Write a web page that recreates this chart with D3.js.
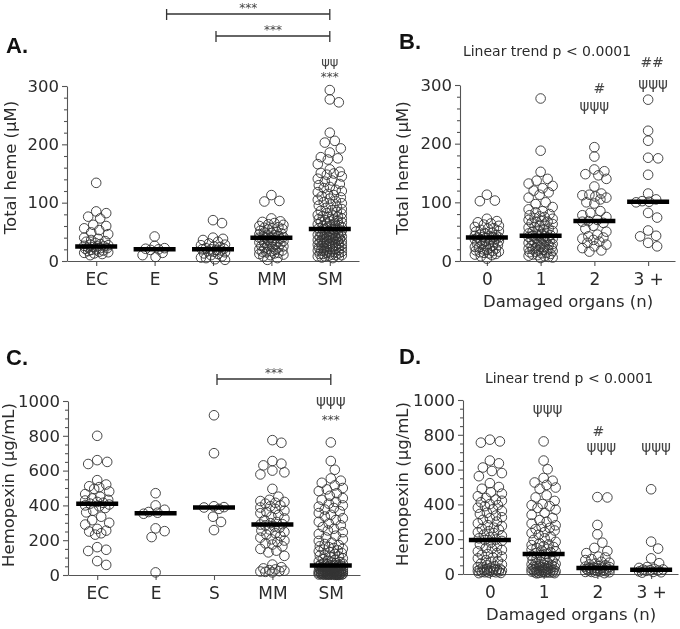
<!DOCTYPE html>
<html><head><meta charset="utf-8">
<script src="https://cdn.jsdelivr.net/npm/d3@7"></script>
<style>body{margin:0;background:#fff} svg{display:block;will-change:transform}</style>
</head><body><svg id="c" width="680" height="629"></svg>
<script>
// ---------- DATA ----------
const groupCats = ["EC", "E", "S", "MM", "SM"];
const organCats = ["0", "1", "2", "3 +"];
const hemeTicks = [0, 100, 200, 300];
const hpxTicks = [0, 200, 400, 600, 800, 1000];

// Total heme (µM) by clinical group (panel A)
const hemeEC = [134, 85, 82, 76, 73, 62, 60, 56, 53, 49, 46, 40, 38, 36, 34, 33, 31, 29, 28, 27, 26, 25, 25, 24, 23, 22, 22, 21, 20, 19, 18, 17, 16, 15, 14, 13, 12, 10];
const hemeE = [42, 26, 22, 21, 20, 19, 14, 10, 7];
const hemeS = [70, 65, 40, 38, 36, 33, 30, 28, 27, 25, 24, 22, 21, 20, 20, 19, 18, 17, 16, 15, 13, 12, 10, 8, 6, 5, 3, 2];
const hemeMM = [113, 103, 102, 73, 68, 67, 65, 63, 62, 60, 58, 57, 56, 55, 54, 52, 50, 49, 48, 47, 46, 45, 44, 43, 42, 41, 40, 40, 40, 39, 38, 37, 36, 35, 34, 33, 32, 31, 30, 29, 28, 27, 26, 25, 24, 23, 22, 21, 20, 19, 18, 17, 16, 15, 14, 13, 12, 11, 10, 8, 5, 2];
const hemeSM = [293, 277, 272, 220, 206, 203, 193, 186, 178, 176, 174, 166, 157, 153, 151, 150, 148, 145, 141, 138, 136, 132, 130, 127, 125, 122, 120, 118, 115, 113, 111, 109, 107, 105, 103, 101, 99, 97, 95, 93, 91, 89, 87, 86, 84, 82, 81, 79, 78, 77, 76, 75, 73, 72, 71, 70, 69, 68, 67, 66, 65, 64, 63, 62, 61, 60, 59, 58, 57, 56, 55, 55, 54, 53, 52, 51, 50, 49, 48, 47, 46, 45, 44, 43, 42, 41, 40, 39, 38, 37, 36, 35, 34, 33, 32, 31, 30, 29, 28, 27, 26, 25, 24, 23, 22, 21, 20, 19, 18, 17, 16, 15, 14, 13, 12, 11, 10, 9, 8, 7, 6, 5, 48, 45, 42, 38, 35, 32, 28, 25, 22, 20, 18, 15, 12, 10, 8, 44, 41, 36, 30, 26];
const hemeGroupMedians = [25, 20, 20, 40, 55];

// Total heme (µM) by damaged organs (panel B)
const hemeO0 = [113, 103, 102, 72, 68, 66, 64, 62, 60, 58, 56, 55, 53, 51, 50, 48, 47, 45, 44, 43, 42, 41, 40, 40, 40, 39, 38, 37, 36, 35, 34, 33, 32, 30, 29, 28, 27, 26, 25, 24, 23, 22, 21, 20, 19, 18, 17, 16, 15, 14, 13, 12, 11, 10, 8, 4];
const hemeO1 = [277, 188, 152, 140, 137, 132, 128, 124, 120, 117, 113, 108, 100, 97, 92, 88, 85, 83, 80, 78, 76, 75, 73, 72, 70, 68, 67, 66, 65, 63, 62, 60, 58, 57, 55, 54, 52, 51, 50, 48, 47, 46, 45, 44, 43, 43, 42, 41, 40, 39, 38, 37, 36, 35, 34, 33, 32, 31, 30, 29, 28, 27, 26, 25, 24, 23, 22, 21, 20, 20, 19, 18, 17, 16, 15, 14, 13, 12, 11, 10, 9, 8, 7, 6, 5];
const hemeO2 = [194, 178, 156, 153, 148, 146, 140, 127, 115, 113, 112, 110, 108, 105, 100, 98, 85, 82, 78, 75, 70, 68, 67, 65, 60, 55, 50, 45, 42, 40, 38, 36, 33, 31, 28, 25, 22, 18, 16];
const hemeO3 = [275, 222, 205, 176, 175, 147, 115, 105, 102, 101, 100, 82, 74, 52, 43, 42, 31, 25];
const hemeOrganMedians = [40, 43, 68, 101];

// Hemopexin (µg/mL) by clinical group (panel C)
const hpxEC = [800, 660, 650, 638, 545, 520, 510, 505, 495, 480, 465, 450, 440, 432, 428, 420, 415, 410, 405, 400, 395, 385, 370, 360, 335, 315, 300, 290, 265, 255, 250, 240, 232, 160, 145, 138, 80, 58];
const hpxE = [470, 400, 375, 362, 358, 352, 268, 252, 218, 15];
const hpxS = [918, 700, 395, 390, 388, 380, 335, 305, 258];
const hpxMM = [775, 760, 655, 640, 630, 600, 590, 578, 495, 450, 432, 425, 420, 415, 410, 400, 395, 388, 380, 370, 362, 355, 345, 335, 325, 315, 305, 298, 292, 290, 285, 278, 270, 262, 255, 248, 240, 232, 225, 215, 205, 198, 190, 182, 175, 165, 150, 140, 130, 110, 60, 45, 38, 32, 28, 25, 22, 20, 18, 15];
const hpxSM = [762, 655, 605, 555, 542, 530, 515, 500, 492, 482, 470, 455, 442, 432, 420, 410, 400, 393, 385, 376, 366, 356, 346, 336, 326, 316, 306, 296, 286, 276, 266, 256, 246, 236, 226, 216, 206, 196, 186, 178, 172, 165, 160, 155, 150, 146, 141, 136, 131, 126, 121, 116, 111, 106, 101, 96, 91, 86, 82, 78, 75, 72, 70, 68, 65, 62, 60, 58, 56, 55, 54, 52, 50, 48, 47, 45, 44, 42, 40, 39, 38, 36, 35, 34, 32, 31, 30, 29, 28, 27, 26, 25, 24, 23, 22, 21, 20, 20, 19, 18, 17, 16, 15, 15, 14, 13, 12, 12, 11, 10, 10, 9, 9, 8, 8, 7, 7, 6, 6, 5, 5, 5, 4, 4, 4, 3, 3, 3, 2, 2, 2, 2, 1, 1, 1];
const hpxGroupMedians = [410, 355, 388, 290, 55];

// Hemopexin (µg/mL) by damaged organs (panel D)
const hpxO0 = [772, 762, 755, 652, 636, 612, 592, 580, 562, 522, 500, 490, 470, 462, 447, 437, 428, 421, 412, 402, 396, 390, 381, 372, 362, 352, 345, 336, 326, 320, 311, 301, 291, 281, 276, 266, 260, 255, 246, 240, 235, 226, 220, 211, 205, 198, 195, 190, 180, 171, 160, 150, 145, 139, 130, 120, 115, 110, 100, 95, 90, 80, 75, 70, 60, 55, 50, 45, 40, 38, 35, 30, 28, 25, 22, 20, 18, 15, 14, 12, 10, 8, 6, 5, 30, 25, 20, 15, 10];
const hpxO1 = [762, 652, 602, 552, 536, 526, 512, 497, 490, 452, 440, 420, 402, 396, 390, 380, 370, 352, 340, 322, 310, 300, 290, 280, 271, 265, 258, 250, 241, 235, 225, 215, 205, 196, 185, 176, 170, 166, 160, 155, 150, 145, 140, 135, 130, 125, 120, 115, 110, 105, 100, 95, 90, 85, 80, 75, 70, 65, 60, 58, 55, 52, 50, 48, 45, 42, 40, 38, 35, 32, 30, 28, 25, 22, 20, 18, 16, 14, 12, 10, 9, 8, 6, 5, 4, 20, 15, 10, 30, 25, 12, 8, 45, 35];
const hpxO2 = [442, 440, 282, 228, 180, 150, 132, 120, 100, 95, 86, 80, 70, 65, 60, 55, 50, 45, 42, 40, 38, 36, 35, 34, 32, 30, 28, 25, 22, 20, 18, 16, 14, 12, 10, 8, 5, 30, 20, 12];
const hpxO3 = [487, 186, 146, 90, 62, 40, 35, 30, 26, 25, 22, 20, 18, 15, 12, 10, 8];
const hpxOrganMedians = [195, 115, 35, 25];

// ---------- DRAW ----------
const svg = d3.select("#c");
const FONT = "'DejaVu Sans', sans-serif";
const INK = "#2b2b2b";
const AX = "#555";

function swarm(vals, y, cx, r, maxHalf) {
  const pts = vals.map(v => ({ v, y: y(v) })).sort((a, b) => a.y - b.y);
  const placed = [];
  const minD = 2 * r * 0.97;
  for (const p of pts) {
    let best = 0, bestScore = -Infinity;
    for (let k = 0; k <= 2 * maxHalf; k++) {
      const dx = (k % 2 === 1) ? (k + 1) / 2 : -k / 2;
      let md = Infinity;
      for (const q of placed) {
        if (Math.abs(q.y - p.y) >= minD) continue;
        const d = Math.hypot(q.x - (cx + dx), q.y - p.y);
        if (d < md) md = d;
      }
      if (md >= minD) { best = dx; break; }
      if (md > bestScore) { bestScore = md; best = dx; }
    }
    p.x = cx + best;
    placed.push(p);
  }
  return placed;
}

function panel(cfg) {
  const g = svg.append("g");
  const x = d3.scalePoint().domain(cfg.cats).range([cfg.x0, cfg.x1]).padding(0.5);
  const y = d3.scaleLinear().domain([0, cfg.max]).range([cfg.yb, cfg.yt]);

  const minor = d3.range(0, cfg.max + 0.001, cfg.minorStep).filter(v => !cfg.ticks.includes(v));
  g.append("g").attr("transform", `translate(${cfg.x0},0)`)
    .call(d3.axisLeft(y).tickValues(minor).tickSize(3).tickSizeOuter(0).tickFormat(""))
    .call(a => a.select(".domain").remove());
  const ya = g.append("g").attr("transform", `translate(${cfg.x0},0)`)
    .call(d3.axisLeft(y).tickValues(cfg.ticks).tickSize(5).tickSizeOuter(0).tickPadding(3).tickFormat(d3.format("d")));
  ya.selectAll("text").attr("font-family", FONT).attr("font-size", 16.5).attr("fill", INK);
  const xa = g.append("g").attr("transform", `translate(0,${cfg.yb})`)
    .call(d3.axisBottom(x).tickSize(5).tickSizeOuter(0).tickPadding(7));
  xa.selectAll("text").attr("font-family", FONT).attr("font-size", 17).attr("fill", INK);
  g.selectAll(".domain, .tick line").attr("stroke", AX).attr("stroke-width", 1.1);

  cfg.data.forEach((vals, i) => {
    const pts = swarm(vals, y, x(cfg.cats[i]), 4.8, cfg.spread);
    g.append("g").selectAll("circle").data(pts).join("circle")
      .attr("cx", d => d.x).attr("cy", d => d.y).attr("r", 4.8)
      .attr("fill", "none").attr("stroke", "#333").attr("stroke-width", 0.9);
  });
  g.append("g").selectAll("line").data(cfg.medians).join("line")
    .attr("x1", (d, i) => x(cfg.cats[i]) - 21).attr("x2", (d, i) => x(cfg.cats[i]) + 21)
    .attr("y1", d => y(d)).attr("y2", d => y(d))
    .attr("stroke", "#000").attr("stroke-width", 4.5);

  g.append("text").attr("transform", `translate(${cfg.ytx},${(cfg.yb + cfg.yt) / 2 + cfg.ytdy}) rotate(-90)`)
    .attr("text-anchor", "middle").attr("font-family", FONT).attr("font-size", 16.5).attr("fill", INK)
    .text(cfg.ytitle);
  if (cfg.xtitle) {
    g.append("text").attr("x", cfg.xtx).attr("y", cfg.xty).attr("text-anchor", "middle")
      .attr("font-family", FONT).attr("font-size", 16.5).attr("fill", INK).text(cfg.xtitle);
  }
  g.append("text").attr("x", cfg.lx).attr("y", cfg.ly).attr("font-family", "'Liberation Sans', Arial, sans-serif")
    .attr("font-weight", "bold").attr("font-size", 22).attr("fill", "#111").text(cfg.label);
  if (cfg.trend) {
    g.append("text").attr("x", cfg.trend[0]).attr("y", cfg.trend[1]).attr("text-anchor", "middle")
      .attr("font-family", FONT).attr("font-size", 14).attr("fill", INK).text("Linear trend p < 0.0001");
  }
  (cfg.notes || []).forEach(n => {
    g.append("text").attr("x", x(n.cat) + (n.dx || 0)).attr("y", n.y).attr("text-anchor", "middle")
      .attr("font-family", FONT).attr("font-size", n.size || 14).attr("fill", "#444").text(n.t);
  });
  (cfg.bars || []).forEach(b => {
    const xa1 = x(b.from) + (b.dx || 0), xa2 = x(b.to);
    const bg = g.append("g").attr("stroke", "#333").attr("stroke-width", 1.3);
    bg.append("line").attr("x1", xa1).attr("x2", xa2).attr("y1", b.y).attr("y2", b.y);
    bg.append("line").attr("x1", xa1).attr("x2", xa1).attr("y1", b.y - 5).attr("y2", b.y + 6);
    bg.append("line").attr("x1", xa2).attr("x2", xa2).attr("y1", b.y - 5).attr("y2", b.y + 6);
    g.append("text").attr("x", (xa1 + xa2) / 2).attr("y", b.y - 2).attr("text-anchor", "middle")
      .attr("font-family", FONT).attr("font-size", 12).attr("fill", "#444").text("***");
  });
}

panel({
  cats: groupCats, x0: 67, x1: 359, yb: 261, yt: 86, max: 300, ticks: hemeTicks, minorStep: 20,
  data: [hemeEC, hemeE, hemeS, hemeMM, hemeSM], medians: hemeGroupMedians, spread: 12,
  ytitle: "Total heme (µM)", ytx: 16, ytdy: -6, label: "A.", lx: 6, ly: 53,
  notes: [{ cat: "SM", t: "ψψ", y: 66, size: 13 }, { cat: "SM", t: "***", y: 81, size: 12 }],
  bars: [{ from: "E", to: "SM", y: 14, dx: 12 }, { from: "S", to: "SM", y: 36, dx: 3 }]
});
panel({
  cats: organCats, x0: 460, x1: 675, yb: 261, yt: 85, max: 300, ticks: hemeTicks, minorStep: 20,
  data: [hemeO0, hemeO1, hemeO2, hemeO3], medians: hemeOrganMedians, spread: 12,
  ytitle: "Total heme (µM)", ytx: 408, ytdy: -5, label: "B.", lx: 399, ly: 49,
  xtitle: "Damaged organs (n)", xtx: 568, xty: 307, trend: [547, 56],
  notes: [{ cat: "2", t: "#", y: 93, dx: 5 }, { cat: "2", t: "ψψψ", y: 111, size: 15 },
          { cat: "3 +", t: "##", y: 67, dx: 4 }, { cat: "3 +", t: "ψψψ", y: 89, size: 15, dx: 5 }]
});
panel({
  cats: groupCats, x0: 68, x1: 360, yb: 575, yt: 401, max: 1000, ticks: hpxTicks, minorStep: 50,
  data: [hpxEC, hpxE, hpxS, hpxMM, hpxSM], medians: hpxGroupMedians, spread: 12,
  ytitle: "Hemopexin (µg/mL)", ytx: 14, ytdy: -3, label: "C.", lx: 6, ly: 365,
  notes: [{ cat: "SM", t: "ψψψ", y: 406, size: 15 }, { cat: "SM", t: "***", y: 424, size: 12 }],
  bars: [{ from: "S", to: "SM", y: 379, dx: 3 }]
});
panel({
  cats: organCats, x0: 463, x1: 678, yb: 574, yt: 400, max: 1000, ticks: hpxTicks, minorStep: 50,
  data: [hpxO0, hpxO1, hpxO2, hpxO3], medians: hpxOrganMedians, spread: 12,
  ytitle: "Hemopexin (µg/mL)", ytx: 408, ytdy: -3, label: "D.", lx: 399, ly: 364,
  xtitle: "Damaged organs (n)", xtx: 571, xty: 620, trend: [569, 383],
  notes: [{ cat: "1", t: "ψψψ", y: 414, size: 15, dx: 4 }, { cat: "2", t: "#", y: 436, dx: 1 },
          { cat: "2", t: "ψψψ", y: 452, size: 15, dx: 4 }, { cat: "3 +", t: "ψψψ", y: 452, size: 15, dx: 5 }]
});
</script></body></html>
